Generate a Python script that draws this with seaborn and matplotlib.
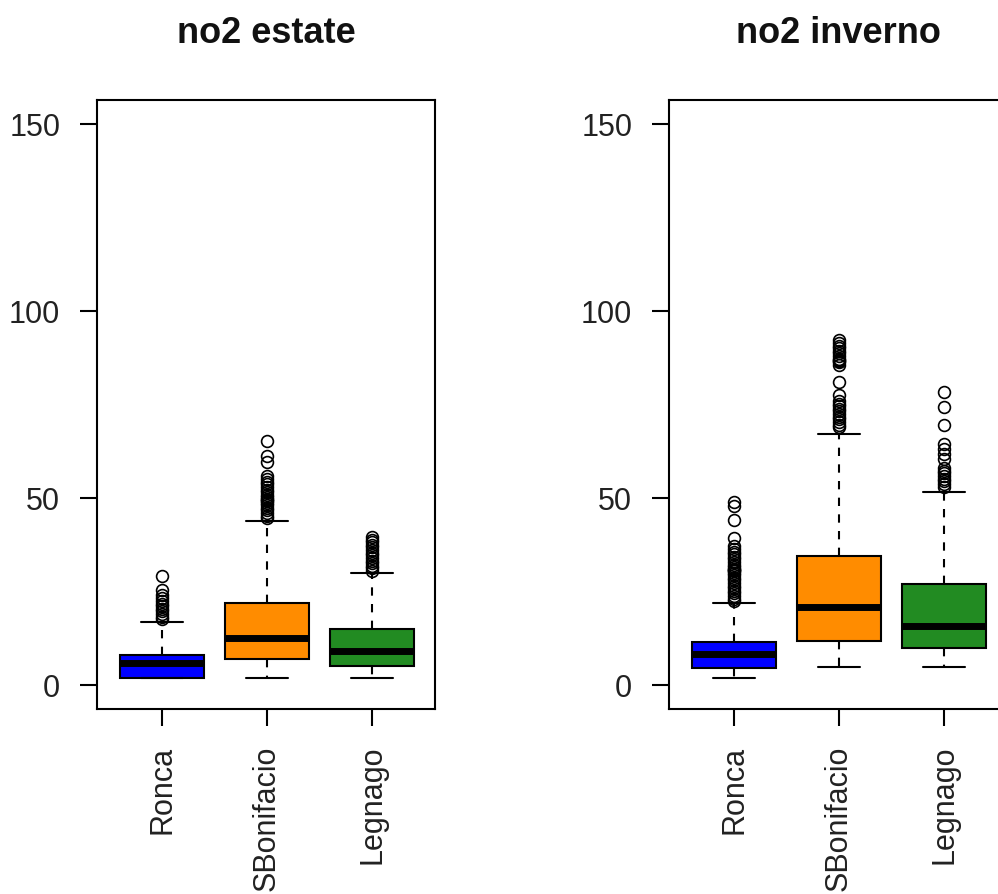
import numpy as np
import pandas as pd
import matplotlib
matplotlib.use("Agg")
import matplotlib.pyplot as plt
import seaborn as sns

# ---------------- data ----------------
stations = ["Ronca", "SBonifacio", "Legnago"]
box_colors = ["#0000FF", "#FF8C00", "#228B22"]
panel_titles = ["no2 estate", "no2 inverno"]
y_ticks = [0, 50, 100, 150]

# five-number summaries per station: lower whisker, Q1, median, Q3, upper whisker
estate_low = [2.0, 1.8, 1.8]
estate_q1 = [2.0, 7.0, 5.0]
estate_med = [5.8, 12.5, 9.1]
estate_q3 = [8.0, 21.9, 15.0]
estate_high = [16.8, 44.0, 29.9]

inverno_low = [1.8, 4.9, 4.9]
inverno_q1 = [4.6, 11.8, 9.8]
inverno_med = [8.2, 21.0, 15.8]
inverno_q3 = [11.6, 34.6, 27.0]
inverno_high = [21.9, 67.2, 51.7]

# outliers
estate_out_ronca = [17.6, 18.3, 19.0, 19.7, 20.4, 21.1, 21.8, 22.5, 23.3, 24.1,
                    25.3, 29.2]
estate_out_sbonifacio = [44.6, 45.3, 46.0, 46.7, 47.4, 48.1, 48.8, 49.3, 49.5,
                         49.7, 50.2, 50.9, 51.6, 52.3, 53.0, 53.7, 54.4, 55.1,
                         55.8, 59.8, 61.2, 65.2]
estate_out_legnago = [30.5, 31.2, 31.9, 32.6, 33.3, 34.0, 34.7, 35.4, 36.1,
                      36.8, 37.5, 38.2, 38.9, 39.6]

inverno_out_ronca = [22.4, 23.1, 23.8, 24.5, 25.2, 25.9, 26.6, 27.3, 28.0, 28.7,
                     29.4, 30.1, 30.5, 30.7, 30.9, 31.1, 31.5, 32.2, 32.9, 33.6,
                     34.3, 35.0, 35.7, 36.4, 37.1, 39.3, 44.2, 47.8, 49.1]
inverno_out_sbonifacio = [69.0, 69.7, 70.4, 71.1, 71.8, 72.5, 73.2, 73.9, 74.6,
                          75.3, 76.0, 77.6, 81.1, 85.6, 86.5, 86.8, 87.0, 87.2,
                          88.0, 88.7, 89.4, 90.1, 90.8, 91.5, 92.2]
inverno_out_legnago = [53.1, 53.8, 54.5, 55.2, 55.9, 56.6, 57.3, 58.0, 60.4,
                       61.8, 63.2, 64.6, 69.6, 74.5, 78.5]


def sample_from_summary(low, q1, med, q3, high, outliers, k=200):
    """Observation list whose quartiles/whiskers reproduce the read summary."""
    return [low] + [q1] * k + [med] * k + [q3] * k + [high] + list(outliers)


def build_frame(lows, q1s, meds, q3s, highs, outs):
    rows = []
    for st, lo, a, m, b, hi, o in zip(stations, lows, q1s, meds, q3s, highs, outs):
        for v in sample_from_summary(lo, a, m, b, hi, o):
            rows.append((st, v))
    return pd.DataFrame(rows, columns=["station", "no2"])


frames = [
    build_frame(estate_low, estate_q1, estate_med, estate_q3, estate_high,
                [estate_out_ronca, estate_out_sbonifacio, estate_out_legnago]),
    build_frame(inverno_low, inverno_q1, inverno_med, inverno_q3, inverno_high,
                [inverno_out_ronca, inverno_out_sbonifacio, inverno_out_legnago]),
]

# ---------------- plotting ----------------
sns.set_theme(style="white")
plt.rcParams["font.family"] = ["Liberation Sans", "DejaVu Sans"]

fig = plt.figure(figsize=(9.98, 8.94), dpi=100)
rects = [[97 / 998, 1 - 709 / 894, 338 / 998, 609 / 894],
         [669 / 998, 1 - 709 / 894, 338 / 998, 609 / 894]]

for rect, df, title in zip(rects, frames, panel_titles):
    ax = fig.add_axes(rect)
    sns.boxplot(
        data=df, x="station", y="no2", hue="station",
        order=stations, hue_order=stations, palette=box_colors,
        saturation=1, legend=False, width=0.8, linecolor="black",
        linewidth=1.5, whis=1.5, ax=ax,
        medianprops=dict(color="black", linewidth=5, solid_capstyle="butt"),
        whiskerprops=dict(color="black", linewidth=1.5, linestyle=(0, (4, 4))),
        capprops=dict(color="black", linewidth=1.5),
        flierprops=dict(marker="o", markersize=8.5, markerfacecolor="none",
                        markeredgecolor="black", markeredgewidth=1.2,
                        linestyle="none"),
    )
    ax.set_xlim(-0.62, 2.6)
    ax.set_ylim(-6.4, 156.5)
    ax.set_yticks(y_ticks)
    ax.set_yticklabels([str(t) for t in y_ticks])
    ax.set_xlabel("")
    ax.set_ylabel("")
    ax.tick_params(axis="both", which="both", left=True, bottom=True,
                   length=12.5, width=1.5, color="black", labelcolor="#222222",
                   labelsize=22, pad=14)
    for lab in ax.get_xticklabels():
        lab.set_rotation(90)
    for sp in ax.spines.values():
        sp.set_color("black")
        sp.set_linewidth(1.5)
        sp.set_visible(True)
    ax.set_title(title, fontsize=26, fontweight="bold", pad=41, color="#111111")

fig.savefig("out.png", dpi=100, facecolor="white")
